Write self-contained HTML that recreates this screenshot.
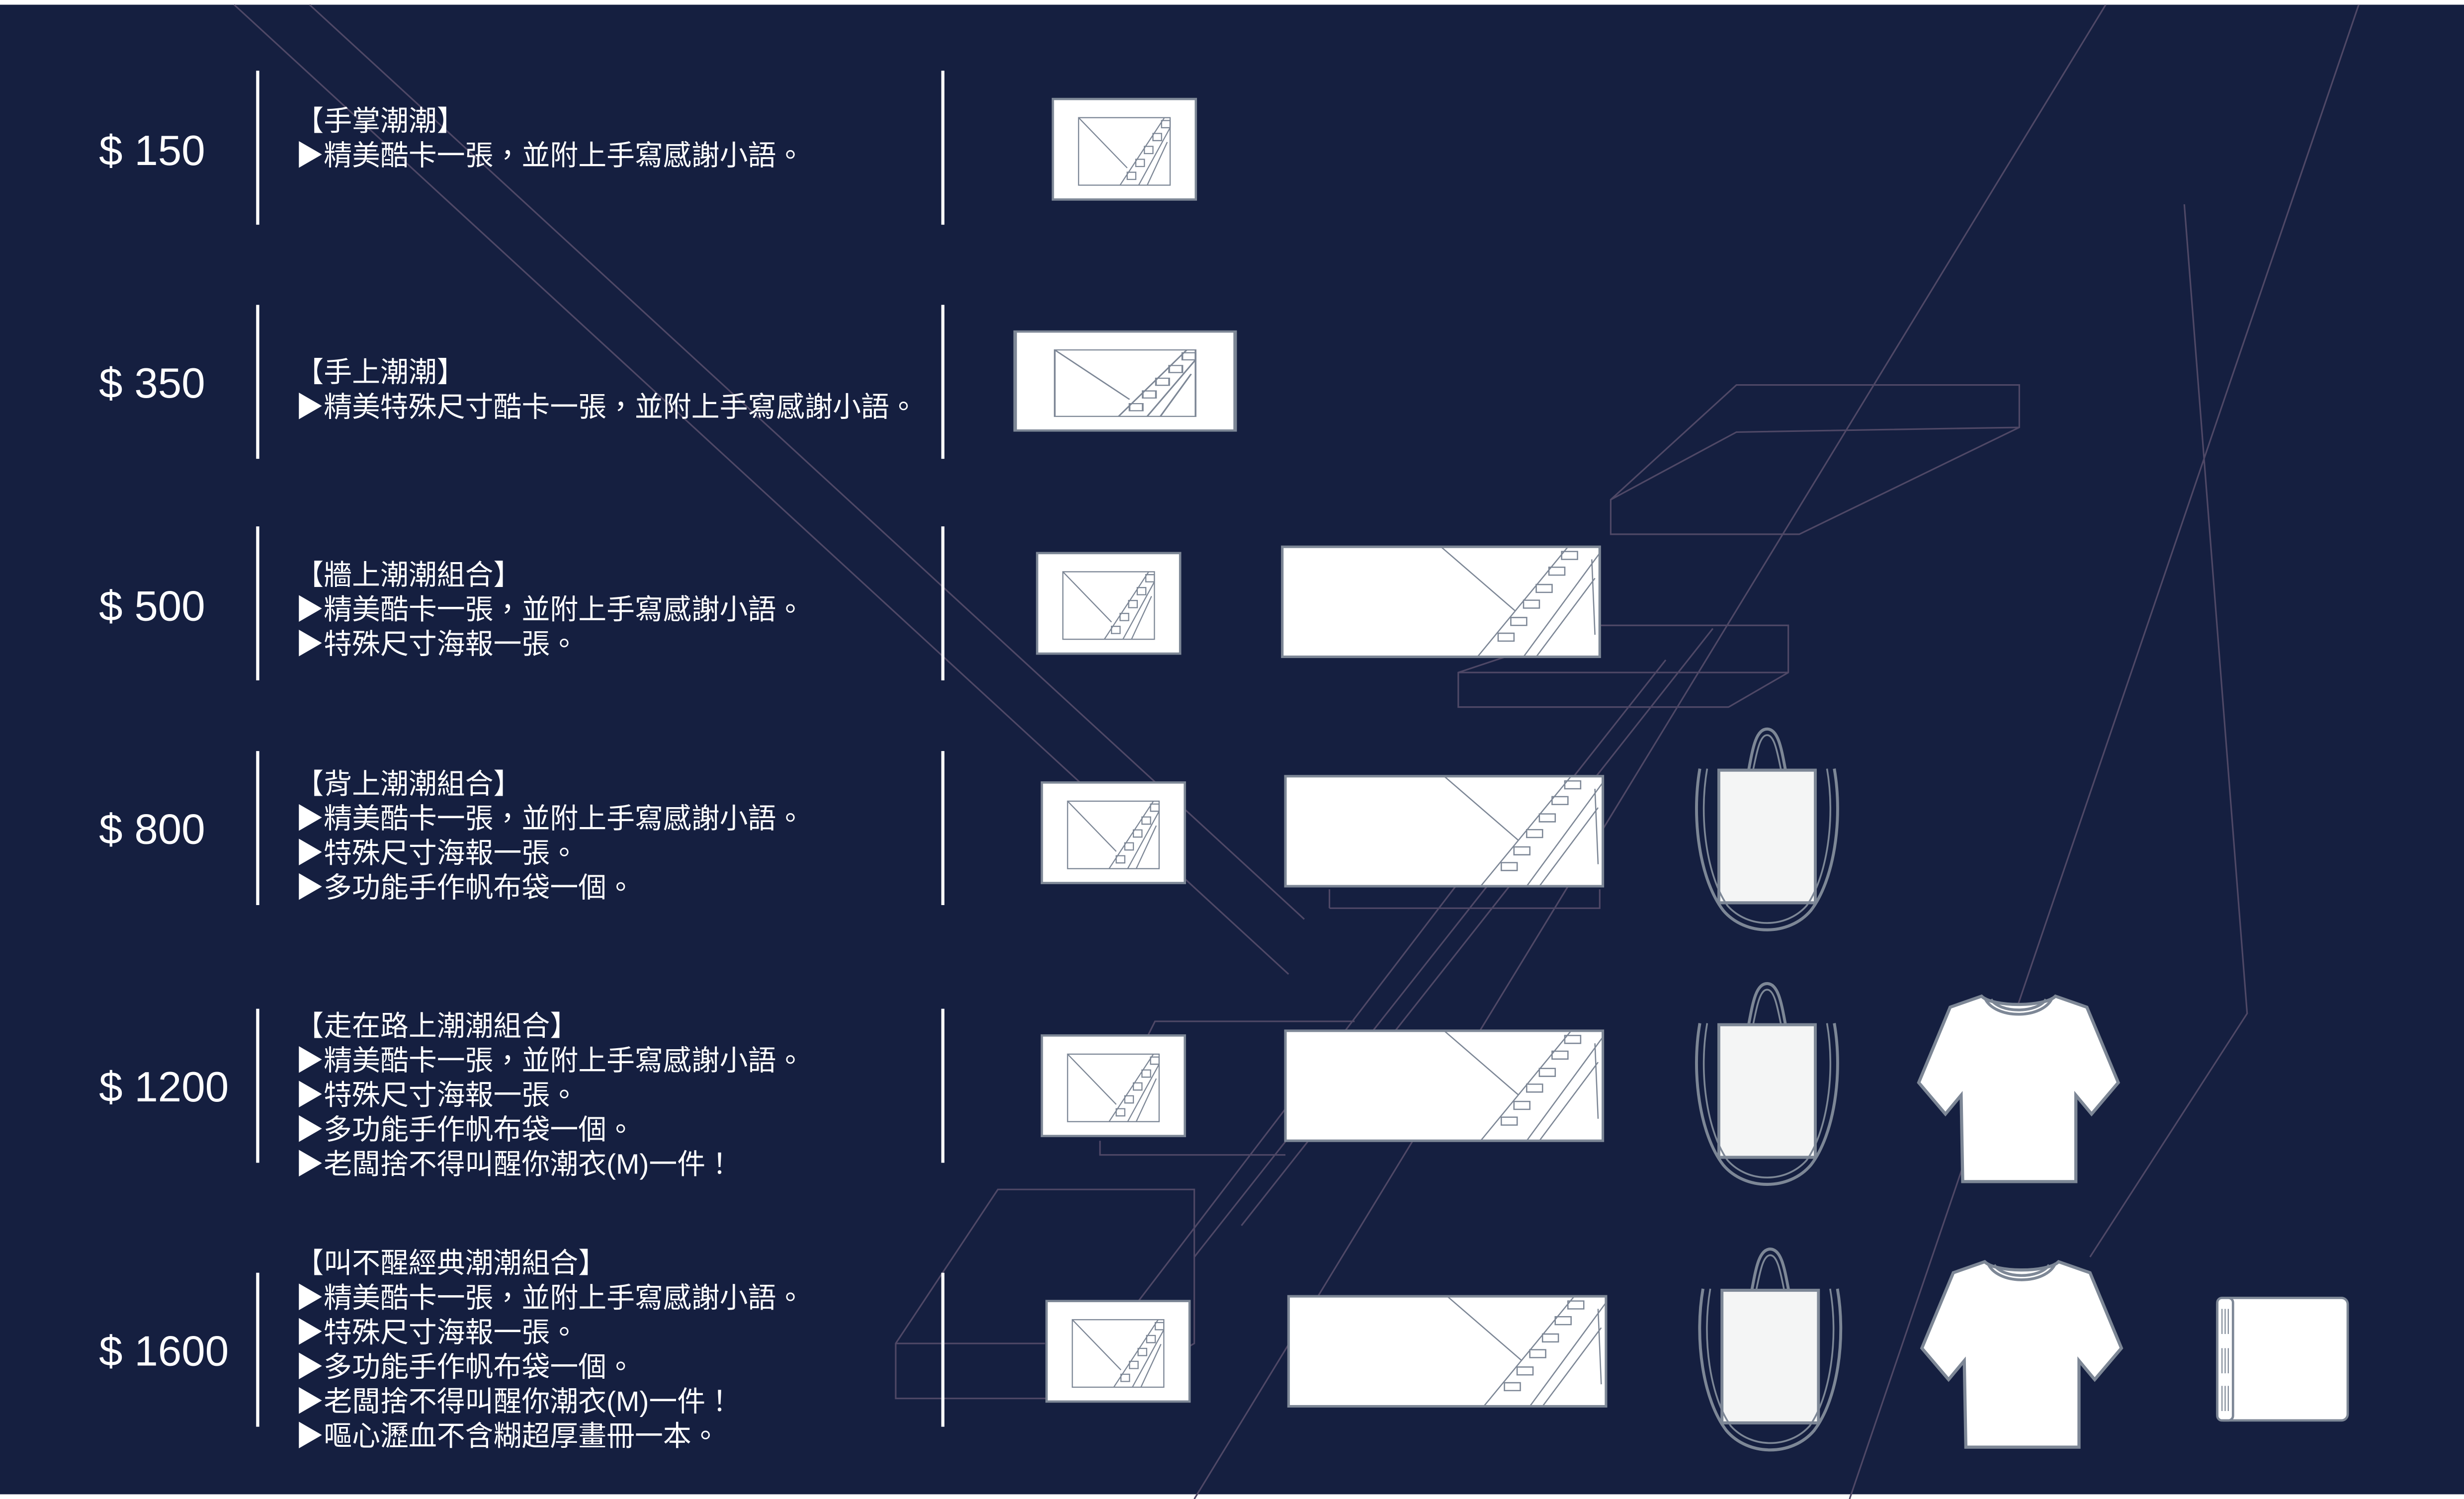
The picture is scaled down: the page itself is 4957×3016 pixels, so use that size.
<!DOCTYPE html>
<html><head><meta charset="utf-8"><style>
html,body{margin:0;padding:0;background:#fff;}
svg{display:block;}
text{font-family:"Liberation Sans","Noto Sans CJK TC",sans-serif;fill:#fff;}
</style></head><body>
<svg width="4957" height="3016" viewBox="0 0 1568 954" preserveAspectRatio="none" xmlns="http://www.w3.org/2000/svg">
<defs>
<g id="card">
<rect x="0" y="0" width="100" height="70" fill="#fff" stroke="#7d8796" stroke-width="1.6"/>
<rect x="18" y="13" width="64" height="47" fill="none" stroke="#7d8796" stroke-width="0.8"/>
<path d="M18,13 L52,48 M78,13 L47,60 M82,20 L60,60 M80,30 L66,60 M76,15 h6 v5 h-6z M70,24 h6 v5 h-6z M64,33 h6 v5 h-6z M58,42 h6 v5 h-6z M52,51 h6 v5 h-6z" fill="none" stroke="#7d8796" stroke-width="0.8"/>
</g>
<g id="poster">
<rect x="0" y="0" width="200" height="70" fill="#fff" stroke="#7d8796" stroke-width="1.6"/>
<path d="M100,0 L147,41 M180,0 L123,70 M200,4 L152,70 M197,20 L160,70 M195,8 L197,56 M176,3 h10 v5 h-10z M168,13 h10 v5 h-10z M160,24 h10 v5 h-10z M152,34 h10 v5 h-10z M144,45 h10 v5 h-10z M136,55 h10 v5 h-10z" fill="none" stroke="#7d8796" stroke-width="0.8"/>
</g>
<g id="tote" fill="none" stroke="#7d8796" stroke-width="2">
<path d="M37,30 C40,15 42,1 50,1 C58,1 60,15 63,30" />
<path d="M40,30 C43,16 45,5 50,5 C55,5 57,16 60,30" stroke-width="1.2"/>
<rect x="17" y="28" width="66" height="87" fill="#f4f5f5"/>
<path d="M4,27 C-2,60 4,100 20,120 C35,137 65,137 80,120 C96,100 102,60 96,27" />
<path d="M9,27 C3,60 9,98 23,117 C37,132 63,132 77,117 C91,98 97,60 91,27" stroke-width="1.2"/>
</g>
<g id="shirt">
<path d="M40,3 L20,10 L0,58 L17,78 L27,66 L28,121 L100,121 L100,66 L110,78 L127,58 L107,10 L87,3 C80,10 47,10 40,3 Z" fill="#fff" stroke="#7d8796" stroke-width="2"/>
<path d="M42,4 C48,18 79,18 85,4 M46,5 C52,14 75,14 81,5" fill="none" stroke="#7d8796" stroke-width="1.8"/>
</g>
</defs>
<rect x="0" y="0" width="1568" height="954" fill="#fff"/>
<rect x="0" y="3" width="1568" height="948" fill="#151f40"/>
<g fill="none" stroke="#4f4866" stroke-width="1">
<path d="M149,3 L820,620"/>
<path d="M197,3 L830,585"/>
<path d="M1501,3 L1177,954"/>
<path d="M1340,3 L760,954"/>
<path d="M1390,130 L1430,645 L1330,800"/>
<path d="M1025,340 L1025,318 L1105,245 L1285,245 L1285,272 L1145,340 Z M1025,318 L1105,275 L1285,272"/>
<path d="M928,450 L928,428 L1018,398 L1138,398 L1138,428 L1100,450 Z M928,428 L1138,428"/>
<path d="M846,578 L846,566 M846,578 L1018,578 L1018,566"/>
<path d="M700,726 L700,735 L818,735 M730,660 L735,650 L862,650"/>
<path d="M570,890 L570,855 L635,757 L760,757 L760,855 L700,890 Z M570,855 L665,855"/>
<path d="M760,800 L1060,420 M790,780 L1090,400 M700,860 L960,520"/>
</g>
<g stroke="#fff" stroke-width="2">
<line x1="164" y1="45" x2="164" y2="143"/><line x1="600" y1="45" x2="600" y2="143"/>
<line x1="164" y1="194" x2="164" y2="292"/><line x1="600" y1="194" x2="600" y2="292"/>
<line x1="164" y1="335" x2="164" y2="433"/><line x1="600" y1="335" x2="600" y2="433"/>
<line x1="164" y1="478" x2="164" y2="576"/><line x1="600" y1="478" x2="600" y2="576"/>
<line x1="164" y1="642" x2="164" y2="740"/><line x1="600" y1="642" x2="600" y2="740"/>
<line x1="164" y1="810" x2="164" y2="908"/><line x1="600" y1="810" x2="600" y2="908"/>
</g>
<g font-size="27">
<text x="63" y="105">$ 150</text>
<text x="63" y="253">$ 350</text>
<text x="63" y="395">$ 500</text>
<text x="63" y="537">$ 800</text>
<text x="63" y="701">$ 1200</text>
<text x="63" y="869">$ 1600</text>
</g>
<g font-size="18">
<text x="188" y="83">【手掌潮潮】</text>
<text x="188" y="105">▶精美酷卡一張，並附上手寫感謝小語。</text>
<text x="188" y="243">【手上潮潮】</text>
<text x="188" y="265">▶精美特殊尺寸酷卡一張，並附上手寫感謝小語。</text>
<text x="188" y="372">【牆上潮潮組合】</text>
<text x="188" y="394">▶精美酷卡一張，並附上手寫感謝小語。</text>
<text x="188" y="416">▶特殊尺寸海報一張。</text>
<text x="188" y="505">【背上潮潮組合】</text>
<text x="188" y="527">▶精美酷卡一張，並附上手寫感謝小語。</text>
<text x="188" y="549">▶特殊尺寸海報一張。</text>
<text x="188" y="571">▶多功能手作帆布袋一個。</text>
<text x="188" y="659">【走在路上潮潮組合】</text>
<text x="188" y="681">▶精美酷卡一張，並附上手寫感謝小語。</text>
<text x="188" y="703">▶特殊尺寸海報一張。</text>
<text x="188" y="725">▶多功能手作帆布袋一個。</text>
<text x="188" y="747">▶老闆捨不得叫醒你潮衣(M)一件！</text>
<text x="188" y="810">【叫不醒經典潮潮組合】</text>
<text x="188" y="832">▶精美酷卡一張，並附上手寫感謝小語。</text>
<text x="188" y="854">▶特殊尺寸海報一張。</text>
<text x="188" y="876">▶多功能手作帆布袋一個。</text>
<text x="188" y="898">▶老闆捨不得叫醒你潮衣(M)一件！</text>
<text x="188" y="920">▶嘔心瀝血不含糊超厚畫冊一本。</text>
</g>
<use href="#card" transform="translate(670,63) scale(0.91,0.914)"/>
<use href="#card" transform="translate(646,211) scale(1.4,0.9)"/>
<use href="#card" transform="translate(660,352) scale(0.91,0.914)"/>
<use href="#card" transform="translate(663,498) scale(0.91,0.914)"/>
<use href="#card" transform="translate(663,659) scale(0.91,0.914)"/>
<use href="#card" transform="translate(666,828) scale(0.91,0.914)"/>
<use href="#poster" transform="translate(816,348) scale(1.01,1)"/>
<use href="#poster" transform="translate(818,494) scale(1.01,1)"/>
<use href="#poster" transform="translate(818,656) scale(1.01,1)"/>
<use href="#poster" transform="translate(820,825) scale(1.01,1)"/>
<use href="#tote" transform="translate(1078,463) scale(0.93,0.97)"/>
<use href="#tote" transform="translate(1078,625) scale(0.93,0.97)"/>
<use href="#tote" transform="translate(1080,794) scale(0.93,0.97)"/>
<use href="#shirt" transform="translate(1221,631)"/>
<use href="#shirt" transform="translate(1223,800)"/>
<rect x="1411" y="826" width="83" height="78" rx="4" fill="#fff" stroke="#7d8796" stroke-width="1.5"/>
<rect x="1411" y="826" width="10" height="78" rx="3" fill="#fff" stroke="#7d8796" stroke-width="1.5"/>
<path d="M1414,833 v16 M1416,833 v16 M1418,833 v16 M1414,858 v16 M1416,858 v16 M1418,858 v16 M1414,882 v16 M1416,882 v16 M1418,882 v16" stroke="#7d8796" stroke-width="0.7"/>
</svg>
</body></html>
